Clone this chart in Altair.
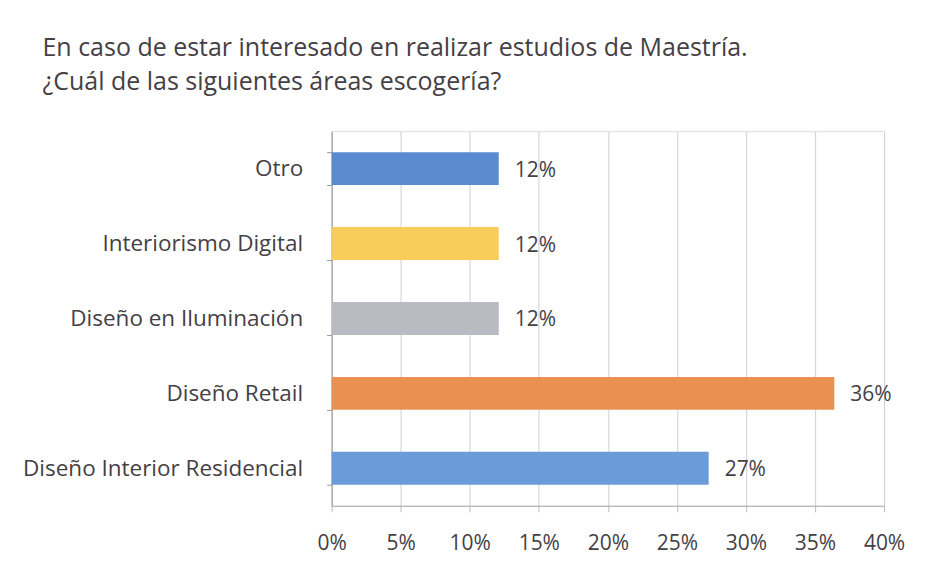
import altair as alt
import pandas as pd

categories = ["Otro", "Interiorismo Digital", "Diseño en Iluminación", "Diseño Retail", "Diseño Interior Residencial"]
values = [0.121, 0.121, 0.121, 0.364, 0.273]
colors = ["#5a8bd0", "#f9cd5a", "#babbc2", "#ea9050", "#6c9bd9"]
x_ticks = [0, 0.05, 0.10, 0.15, 0.20, 0.25, 0.30, 0.35, 0.40]

df = pd.DataFrame({"cat": categories, "val": values, "color": colors})

FONT = "Open Sans"
TXT = "#454045"

y = alt.Y("cat:N", sort=categories, title=None,
          scale=alt.Scale(paddingInner=0.56, paddingOuter=0.28),
          axis=alt.Axis(labelFont=FONT, labelFontSize=22.5, labelColor=TXT, labelPadding=24,
                        tickBand="extent", tickSize=5, tickColor="#999999",
                        domainColor="#999999", labelLimit=400, grid=False))
x = alt.X("val:Q", title=None,
          scale=alt.Scale(domain=[0, 0.40], nice=False),
          axis=alt.Axis(values=x_ticks, format=".0%", labelFont=FONT, labelFontSize=21,
                        labelColor=TXT, labelPadding=21, labelFlush=False, tickSize=6,
                        tickColor="#bbbbbb", domainColor="#aaaaaa", gridColor="#cfcfcf",
                        grid=True))

bars = alt.Chart(df).mark_bar().encode(
    x=x, y=y, color=alt.Color("color:N", scale=None)
)
labels = alt.Chart(df).mark_text(align="left", dx=16, dy=2, font=FONT, fontSize=21, color=TXT).encode(
    x="val:Q", y=alt.Y("cat:N", sort=categories), text=alt.Text("val:Q", format=".0%")
)

chart = alt.layer(bars, labels).properties(
    width=553, height=375,
    padding={"left": 14, "top": 28, "right": 20, "bottom": 6},
    title=alt.TitleParams(
        ["En caso de estar interesado en  realizar estudios de Maestría.",
         "¿Cuál de las siguientes áreas escogería?"],
        anchor="start", frame="bounds", font=FONT, fontSize=25, fontWeight="normal",
        color="#454045", lineHeight=34, dx=20, offset=25)
).configure_view(stroke=None).configure(background="white")

chart.save("out.html", embed_options={"renderer": "svg", "actions": False})
